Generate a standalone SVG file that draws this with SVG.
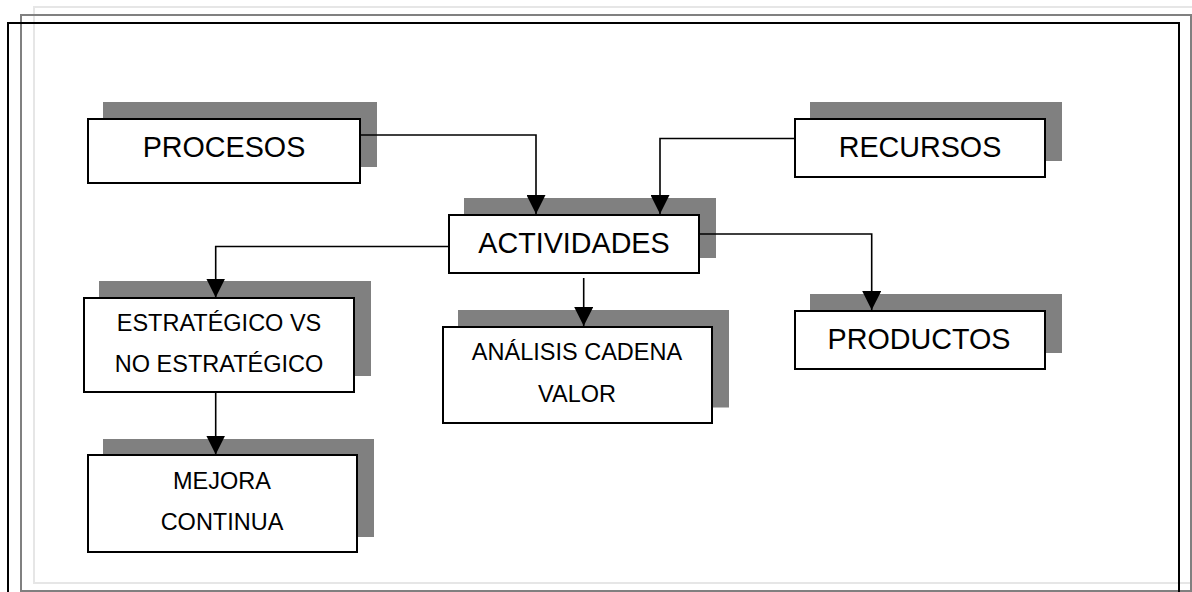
<svg xmlns="http://www.w3.org/2000/svg" width="1192" height="592" viewBox="0 0 1192 592">
  <defs>
    <marker id="arrow" viewBox="0 0 19 19" refX="19" refY="9.5" markerWidth="19" markerHeight="19" markerUnits="userSpaceOnUse" orient="auto">
      <path d="M0,0 L19,9.5 L0,19 Z" fill="#000"/>
    </marker>
  </defs>
  <style>
    .frame { fill: none; stroke-width: 2; }
    .shadow { fill: #808080; }
    .box { fill: #fff; stroke: #000; stroke-width: 2; }
    .big { font-family: "Liberation Sans", Arial, sans-serif; font-size: 28.7px; fill: #000; text-anchor: middle; }
    .small { font-family: "Liberation Sans", Arial, sans-serif; font-size: 23.5px; fill: #000; text-anchor: middle; }
    .conn { fill: none; stroke: #000; stroke-width: 1.6; }
  </style>

  <rect width="1192" height="592" fill="#fff"/>

  <!-- page frames -->
  <g id="frames">
    <rect class="frame" x="34" y="7" width="1200" height="576" stroke="#e6e6e6"/>
    <rect class="frame" x="21" y="15" width="1170" height="576" stroke="#808080"/>
    <rect class="frame" x="8" y="23" width="1171" height="600" stroke="#000"/>
  </g>

  <g id="procesos">
    <rect class="shadow" x="103" y="102" width="274" height="65"/>
    <rect class="box" x="88" y="119" width="272" height="64"/>
    <text class="big" x="224" y="157">PROCESOS</text>
  </g>

  <g id="recursos">
    <rect class="shadow" x="810" y="102" width="252" height="59"/>
    <rect class="box" x="795" y="119" width="250" height="58"/>
    <text class="big" x="920" y="157">RECURSOS</text>
  </g>

  <g id="actividades">
    <rect class="shadow" x="464" y="198" width="252" height="60"/>
    <rect class="box" x="449" y="215" width="250" height="58"/>
    <text class="big" x="574" y="253">ACTIVIDADES</text>
  </g>

  <g id="productos">
    <rect class="shadow" x="810" y="294" width="252" height="59"/>
    <rect class="box" x="795" y="311" width="250" height="58"/>
    <text class="big" x="919" y="349">PRODUCTOS</text>
  </g>

  <g id="estrategico">
    <rect class="shadow" x="99" y="281" width="272" height="95"/>
    <rect class="box" x="84" y="298" width="270" height="94"/>
    <text class="small" x="219" y="331">ESTRATÉGICO VS</text>
    <text class="small" x="219" y="372">NO ESTRATÉGICO</text>
  </g>

  <g id="analisis">
    <rect class="shadow" x="458" y="310" width="271" height="97.5"/>
    <rect class="box" x="443" y="327" width="269" height="96"/>
    <text class="small" x="577" y="360">ANÁLISIS CADENA</text>
    <text class="small" x="577" y="401.5">VALOR</text>
  </g>

  <g id="mejora">
    <rect class="shadow" x="103" y="439" width="271" height="98"/>
    <rect class="box" x="88" y="455" width="269" height="97"/>
    <text class="small" x="222" y="488.5">MEJORA</text>
    <text class="small" x="222" y="529.5">CONTINUA</text>
  </g>

  <!-- connectors, drawn over the node shadows -->
  <g id="connectors">
    <polyline class="conn" points="361,135 536,135 536,214" marker-end="url(#arrow)"/>
    <polyline class="conn" points="794,138.5 660,138.5 660,214" marker-end="url(#arrow)"/>
    <polyline class="conn" points="448,246.5 215.7,246.5 215.7,297.5" marker-end="url(#arrow)"/>
    <polyline class="conn" points="700,234 871.7,234 871.7,310" marker-end="url(#arrow)"/>
    <polyline class="conn" points="583.7,278 583.7,326" marker-end="url(#arrow)"/>
    <polyline class="conn" points="215.7,393 215.7,454.5" marker-end="url(#arrow)"/>
  </g>
</svg>
